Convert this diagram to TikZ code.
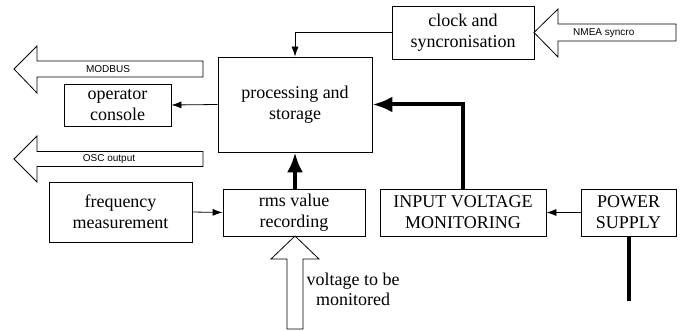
\documentclass[tikz,border=0pt]{standalone}
\usepackage{fontspec}
\setmainfont{Liberation Serif}
\setsansfont{Liberation Sans}
\usetikzlibrary{arrows.meta}
\begin{document}
\begin{tikzpicture}[x=1pt,y=-1pt,
  blk/.style={draw, line width=0.8pt, rectangle, inner sep=0pt, align=center,
    font=\rmfamily\fontsize{18}{21}\selectfont},
  thin/.style={line width=0.8pt, -{Latex[length=10pt,width=7pt]}},
  thick/.style={line width=4pt, -{Latex[length=20pt,width=16pt]}},
  bigarrow/.style={draw, line width=0.8pt, fill=white},
  lbl/.style={font=\sffamily\fontsize{10}{12}\selectfont, inner sep=0pt}]
\useasboundingbox (0,0) rectangle (682,331);

% block arrows
\draw[bigarrow] (14,69) -- (37,46) -- (37,61) -- (203,61) -- (203,77) -- (37,77) -- (37,93) -- cycle;
\node[lbl] (modbus) at (108,69.5) {MODBUS};
\draw[bigarrow] (14,159) -- (37,136) -- (37,151.5) -- (203,151.5) -- (203,166.5) -- (37,166.5) -- (37,182) -- cycle;
\node[lbl] (osc) at (109,159.5) {OSC output};
\draw[bigarrow] (534,32.5) -- (558,9) -- (558,24) -- (676,24) -- (676,41) -- (558,41) -- (558,57) -- cycle;
\node[lbl, anchor=west] (nmea) at (573,33) {NMEA syncro};
\draw[bigarrow] (295,236) -- (319,259) -- (303,259) -- (303,329) -- (287,329) -- (287,259) -- (271,259) -- cycle;
\node[align=center, inner sep=0pt, font=\rmfamily\fontsize{18}{20}\selectfont] (vtext) at (353,289) {voltage to be\\monitored};

% boxes
\node[blk, minimum width=107pt, minimum height=42pt] (console) at (117.5,105) {operator\\console};
\node[blk, minimum width=154pt, minimum height=95pt] (proc) at (295,104.5) {processing and\\storage};
\node[blk, minimum width=142pt, minimum height=53pt] (clock) at (463,32.5) {clock and\\syncronisation};
\node[blk, minimum width=143pt, minimum height=60pt] (freq) at (120.5,212) {frequency\\measurement};
\node[blk, minimum width=142pt, minimum height=47pt] (rms) at (294,212.5) {rms value\\recording};
\node[blk, minimum width=166pt, minimum height=47pt] (ivm) at (463,212.5) {INPUT VOLTAGE\\MONITORING};
\node[blk, minimum width=95pt, minimum height=47pt] (ps) at (628.5,212.5) {POWER\\SUPPLY};
\coordinate (psend) at (628.5,301);

% connectors
\draw[thin] (proc.west) -- (console.east);
\draw[thin] (clock.west) -| (proc.north);
\draw[thin] (freq.east) -- (rms.west);
\draw[thin] (ps.west) -- (ivm.east);
\draw[thick] (rms.north -| proc.south) -- (proc.south);
\draw[thick] (ivm.north) |- (proc.east);
\draw[line width=4pt] (ps.south) -- (psend);
\end{tikzpicture}
\end{document}
